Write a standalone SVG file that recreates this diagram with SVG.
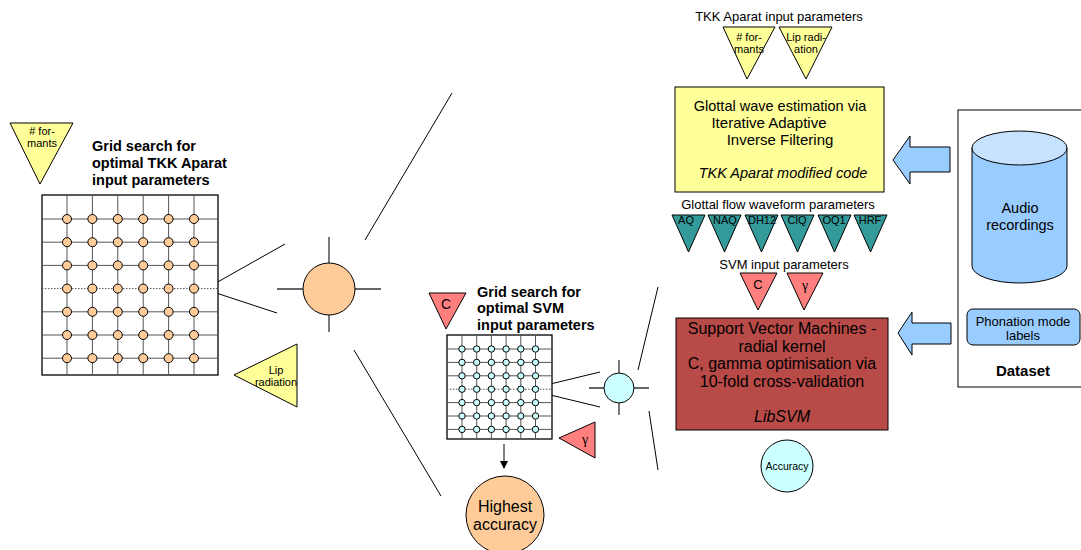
<svg xmlns="http://www.w3.org/2000/svg" width="1081" height="550" viewBox="0 0 1081 550">
<style>
text{font-family:"Liberation Sans",Arial,sans-serif;fill:#000}
.ctr{text-anchor:middle}
.b{font-weight:bold}
.it{font-style:italic}
.gam{font-family:"Liberation Serif","Times New Roman",serif}
.ln{stroke:#000;stroke-width:1;fill:none}
.gl{stroke:#555;stroke-width:1;fill:none}
.dot{stroke:#555;stroke-width:1;stroke-dasharray:1.5 1.5;fill:none}
.gb{fill:#fff;stroke:#000;stroke-width:1.3}
.yel{fill:#FFFF99;stroke:#000;stroke-width:1}
.red{fill:#FF7F7F;stroke:#000;stroke-width:1}
.teal{fill:#339999;stroke:#000;stroke-width:1}
.org{fill:#FFCC99;stroke:#000;stroke-width:1}
.cyan{fill:#CCFFFF;stroke:#000;stroke-width:1}
.blue{fill:#99CCFF;stroke:#000;stroke-width:1}
.cross{stroke:#333;stroke-width:1.3}
</style>
<defs>
<marker id="ah" markerWidth="8" markerHeight="8" refX="7" refY="4" orient="auto" markerUnits="userSpaceOnUse">
<path d="M0,0 L8,4 L0,8 Z" fill="#000"/>
</marker>
</defs>

<g id="connectors">
<line class="ln" x1="207" y1="288" x2="285" y2="244"/>
<line class="ln" x1="207" y1="290" x2="277" y2="313"/>
<line class="ln" x1="365" y1="240" x2="452" y2="93"/>
<line class="ln" x1="354" y1="350" x2="441" y2="496"/>
<line class="ln" x1="538" y1="387" x2="600" y2="372"/>
<line class="ln" x1="538" y1="392" x2="600" y2="407"/>
<line class="ln" x1="638" y1="370" x2="658" y2="287"/>
<line class="ln" x1="649" y1="411" x2="658" y2="470"/>
<line class="ln" x1="504" y1="444" x2="504" y2="468" marker-end="url(#ah)"/>
<line class="ln" x1="1010" y1="284" x2="1010" y2="308" marker-end="url(#ah)"/>
<line class="ln" x1="1028" y1="309" x2="1028" y2="285" marker-end="url(#ah)"/>
</g>

<g id="formants-left">
<polygon class="yel" points="10,123 73,123 40,184"/>
<text class="ctr" x="42" y="135" font-size="11">#  for-</text>
<text class="ctr" x="42" y="147" font-size="11">mants</text>
</g>

<g id="tkk-grid-title">
<text class="b" x="92" y="151" font-size="14.5">Grid search for</text>
<text class="b" x="92" y="168" font-size="14.5">optimal TKK Aparat</text>
<text class="b" x="92" y="185" font-size="14.5">input parameters</text>
</g>

<g id="tkk-grid">
<rect class="gb" x="42" y="195" width="176" height="180"/>
<g class="gl">
<line x1="67" y1="195" x2="67" y2="375"/><line x1="92.4" y1="195" x2="92.4" y2="375"/><line x1="117.8" y1="195" x2="117.8" y2="375"/><line x1="143.2" y1="195" x2="143.2" y2="375"/><line x1="168.6" y1="195" x2="168.6" y2="375"/><line x1="194" y1="195" x2="194" y2="375"/>
<line x1="42" y1="219" x2="218" y2="219"/><line x1="42" y1="242.2" x2="218" y2="242.2"/><line x1="42" y1="265.4" x2="218" y2="265.4"/><line x1="42" y1="311.8" x2="218" y2="311.8"/><line x1="42" y1="335" x2="218" y2="335"/><line x1="42" y1="358.2" x2="218" y2="358.2"/>
</g>
<line class="dot" x1="42" y1="288.6" x2="218" y2="288.6"/>
<g class="org">
<circle cx="67" cy="219" r="4.5"/><circle cx="92.4" cy="219" r="4.5"/><circle cx="117.8" cy="219" r="4.5"/><circle cx="143.2" cy="219" r="4.5"/><circle cx="168.6" cy="219" r="4.5"/><circle cx="194" cy="219" r="4.5"/>
<circle cx="67" cy="242.2" r="4.5"/><circle cx="92.4" cy="242.2" r="4.5"/><circle cx="117.8" cy="242.2" r="4.5"/><circle cx="143.2" cy="242.2" r="4.5"/><circle cx="168.6" cy="242.2" r="4.5"/><circle cx="194" cy="242.2" r="4.5"/>
<circle cx="67" cy="265.4" r="4.5"/><circle cx="92.4" cy="265.4" r="4.5"/><circle cx="117.8" cy="265.4" r="4.5"/><circle cx="143.2" cy="265.4" r="4.5"/><circle cx="168.6" cy="265.4" r="4.5"/><circle cx="194" cy="265.4" r="4.5"/>
<circle cx="67" cy="288.6" r="4.5"/><circle cx="92.4" cy="288.6" r="4.5"/><circle cx="117.8" cy="288.6" r="4.5"/><circle cx="143.2" cy="288.6" r="4.5"/><circle cx="168.6" cy="288.6" r="4.5"/><circle cx="194" cy="288.6" r="4.5"/>
<circle cx="67" cy="311.8" r="4.5"/><circle cx="92.4" cy="311.8" r="4.5"/><circle cx="117.8" cy="311.8" r="4.5"/><circle cx="143.2" cy="311.8" r="4.5"/><circle cx="168.6" cy="311.8" r="4.5"/><circle cx="194" cy="311.8" r="4.5"/>
<circle cx="67" cy="335" r="4.5"/><circle cx="92.4" cy="335" r="4.5"/><circle cx="117.8" cy="335" r="4.5"/><circle cx="143.2" cy="335" r="4.5"/><circle cx="168.6" cy="335" r="4.5"/><circle cx="194" cy="335" r="4.5"/>
<circle cx="67" cy="358.2" r="4.5"/><circle cx="92.4" cy="358.2" r="4.5"/><circle cx="117.8" cy="358.2" r="4.5"/><circle cx="143.2" cy="358.2" r="4.5"/><circle cx="168.6" cy="358.2" r="4.5"/><circle cx="194" cy="358.2" r="4.5"/>
</g>
</g>

<g id="lip-left">
<polygon class="yel" points="234,375 297,344 297,407"/>
<text class="ctr" x="276" y="374" font-size="11">Lip</text>
<text class="ctr" x="276" y="386" font-size="11">radiation</text>
</g>

<g id="big-circle">
<line class="cross" x1="329" y1="237" x2="329" y2="332"/>
<line class="cross" x1="277" y1="289" x2="381" y2="289"/>
<circle class="org" cx="329" cy="289" r="26"/>
</g>

<g id="svm-grid-c">
<polygon class="red" points="429,293 466,293 446,329"/>
<text class="ctr" x="446" y="309" font-size="14">C</text>
</g>

<g id="svm-grid-title">
<text class="b" x="477" y="297" font-size="14.5">Grid search for</text>
<text class="b" x="477" y="313" font-size="14.5">optimal SVM</text>
<text class="b" x="477" y="330" font-size="14.5">input parameters</text>
</g>

<g id="svm-grid">
<rect class="gb" x="447" y="335" width="105" height="104"/>
<g class="gl">
<line x1="462" y1="335" x2="462" y2="439"/><line x1="476.7" y1="335" x2="476.7" y2="439"/><line x1="491.4" y1="335" x2="491.4" y2="439"/><line x1="506.1" y1="335" x2="506.1" y2="439"/><line x1="520.8" y1="335" x2="520.8" y2="439"/><line x1="535.5" y1="335" x2="535.5" y2="439"/>
<line x1="447" y1="349" x2="552" y2="349"/><line x1="447" y1="362.4" x2="552" y2="362.4"/><line x1="447" y1="375.8" x2="552" y2="375.8"/><line x1="447" y1="402.6" x2="552" y2="402.6"/><line x1="447" y1="416" x2="552" y2="416"/><line x1="447" y1="429.4" x2="552" y2="429.4"/>
</g>
<line class="dot" x1="447" y1="389.2" x2="552" y2="389.2"/>
<g class="cyan">
<circle cx="462" cy="349" r="3.2"/><circle cx="476.7" cy="349" r="3.2"/><circle cx="491.4" cy="349" r="3.2"/><circle cx="506.1" cy="349" r="3.2"/><circle cx="520.8" cy="349" r="3.2"/><circle cx="535.5" cy="349" r="3.2"/>
<circle cx="462" cy="362.4" r="3.2"/><circle cx="476.7" cy="362.4" r="3.2"/><circle cx="491.4" cy="362.4" r="3.2"/><circle cx="506.1" cy="362.4" r="3.2"/><circle cx="520.8" cy="362.4" r="3.2"/><circle cx="535.5" cy="362.4" r="3.2"/>
<circle cx="462" cy="375.8" r="3.2"/><circle cx="476.7" cy="375.8" r="3.2"/><circle cx="491.4" cy="375.8" r="3.2"/><circle cx="506.1" cy="375.8" r="3.2"/><circle cx="520.8" cy="375.8" r="3.2"/><circle cx="535.5" cy="375.8" r="3.2"/>
<circle cx="462" cy="389.2" r="3.2"/><circle cx="476.7" cy="389.2" r="3.2"/><circle cx="491.4" cy="389.2" r="3.2"/><circle cx="506.1" cy="389.2" r="3.2"/><circle cx="520.8" cy="389.2" r="3.2"/><circle cx="535.5" cy="389.2" r="3.2"/>
<circle cx="462" cy="402.6" r="3.2"/><circle cx="476.7" cy="402.6" r="3.2"/><circle cx="491.4" cy="402.6" r="3.2"/><circle cx="506.1" cy="402.6" r="3.2"/><circle cx="520.8" cy="402.6" r="3.2"/><circle cx="535.5" cy="402.6" r="3.2"/>
<circle cx="462" cy="416" r="3.2"/><circle cx="476.7" cy="416" r="3.2"/><circle cx="491.4" cy="416" r="3.2"/><circle cx="506.1" cy="416" r="3.2"/><circle cx="520.8" cy="416" r="3.2"/><circle cx="535.5" cy="416" r="3.2"/>
<circle cx="462" cy="429.4" r="3.2"/><circle cx="476.7" cy="429.4" r="3.2"/><circle cx="491.4" cy="429.4" r="3.2"/><circle cx="506.1" cy="429.4" r="3.2"/><circle cx="520.8" cy="429.4" r="3.2"/><circle cx="535.5" cy="429.4" r="3.2"/>
</g>
</g>

<g id="svm-grid-gamma">
<polygon class="red" points="559,438 595,422 595,458"/>
<text class="ctr gam" x="585" y="444" font-size="14">γ</text>
</g>

<g id="small-circle">
<line class="cross" x1="619" y1="360" x2="619" y2="415"/>
<line class="cross" x1="589" y1="388" x2="649" y2="388"/>
<circle class="cyan" cx="619" cy="388" r="15"/>
</g>

<g id="highest-accuracy">
<circle class="org" cx="505" cy="515" r="39"/>
<text class="ctr" x="505" y="512" font-size="16">Highest</text>
<text class="ctr" x="505" y="530" font-size="16">accuracy</text>
</g>

<g id="tkk-params">
<text class="ctr" x="779" y="21" font-size="13">TKK Aparat input parameters</text>
<polygon class="yel" points="723,27 775,27 747,79"/>
<text class="ctr" x="749" y="41" font-size="11">#  for-</text>
<text class="ctr" x="749" y="53" font-size="11">mants</text>
<polygon class="yel" points="779,27 832,27 806,79"/>
<text class="ctr" x="806" y="41" font-size="11">Lip radi-</text>
<text class="ctr" x="806" y="53" font-size="11">ation</text>
</g>

<g id="glottal-box">
<rect class="yel" x="675" y="87" width="209" height="105"/>
<text class="ctr" x="780" y="111" font-size="14.5">Glottal wave estimation via</text>
<text class="ctr" x="769" y="128" font-size="15">Iterative Adaptive</text>
<text class="ctr" x="780" y="145" font-size="15">Inverse Filtering</text>
<text class="ctr it" x="783" y="178" font-size="14.5">TKK Aparat modified code</text>
</g>

<g id="glottal-params">
<text class="ctr" x="778" y="209" font-size="13">Glottal flow waveform parameters</text>
<polygon class="teal" points="672,215 705,215 688.5,252"/>
<text class="ctr" x="686" y="224" font-size="11">AQ</text>
<polygon class="teal" points="708,215 741,215 724.5,252"/>
<text class="ctr" x="725" y="224" font-size="11">NAQ</text>
<polygon class="teal" points="745,215 778,215 761.5,252"/>
<text class="ctr" x="762" y="224" font-size="11">DH12</text>
<polygon class="teal" points="781,215 814,215 797.5,252"/>
<text class="ctr" x="797" y="224" font-size="11">ClQ</text>
<polygon class="teal" points="818,215 851,215 834.5,252"/>
<text class="ctr" x="834" y="224" font-size="11">OQ1</text>
<polygon class="teal" points="854,215 887,215 870.5,252"/>
<text class="ctr" x="870" y="224" font-size="11">HRF</text>
</g>

<g id="svm-params">
<text class="ctr" x="784" y="269" font-size="13">SVM input parameters</text>
<polygon class="red" points="740,273 777,273 758,310"/>
<text class="ctr" x="758" y="289" font-size="13">C</text>
<polygon class="red" points="787,273 823,273 804,310"/>
<text class="ctr gam" x="805" y="290" font-size="14">γ</text>
</g>

<g id="svm-box">
<rect x="676" y="318" width="212" height="112" fill="#B84A48" stroke="#000" stroke-width="1"/>
<text class="ctr" x="782" y="334" font-size="16">Support Vector Machines -</text>
<text class="ctr" x="782" y="352" font-size="16">radial kernel</text>
<text class="ctr" x="782" y="369" font-size="16">C, gamma optimisation via</text>
<text class="ctr" x="782" y="387" font-size="16">10-fold cross-validation</text>
<text class="ctr it" x="782" y="422" font-size="16">LibSVM</text>
</g>

<g id="accuracy">
<circle class="cyan" cx="787" cy="466" r="26"/>
<text class="ctr" x="787" y="470" font-size="10.5">Accuracy</text>
</g>

<g id="arrow-top">
<polygon class="blue" points="893,160 910,136 910,147 950,147 950,172 910,172 910,184"/>
</g>
<g id="arrow-bottom">
<polygon class="blue" points="898,333 912,312 912,323 951,323 951,344 912,344 912,355"/>
</g>

<g id="dataset">
<rect x="958" y="110" width="140" height="277" fill="#fff" stroke="#000" stroke-width="1"/>
<text class="ctr b" x="1023" y="376" font-size="15">Dataset</text>
</g>

<g id="audio">
<path class="blue" d="M972,148 L972,266 A47.5,17 0 0 0 1067,266 L1067,148"/>
<ellipse cx="1019.5" cy="148" rx="47.5" ry="17" fill="#C6E2FF" stroke="#000" stroke-width="1"/>
<text class="ctr" x="1020" y="213" font-size="14.5">Audio</text>
<text class="ctr" x="1020" y="230" font-size="14.5">recordings</text>
</g>

<g id="phonation">
<rect class="blue" x="967" y="309" width="113" height="36" rx="6"/>
<text class="ctr" x="1023" y="326" font-size="13">Phonation mode</text>
<text class="ctr" x="1023" y="340" font-size="13">labels</text>
</g>
</svg>
